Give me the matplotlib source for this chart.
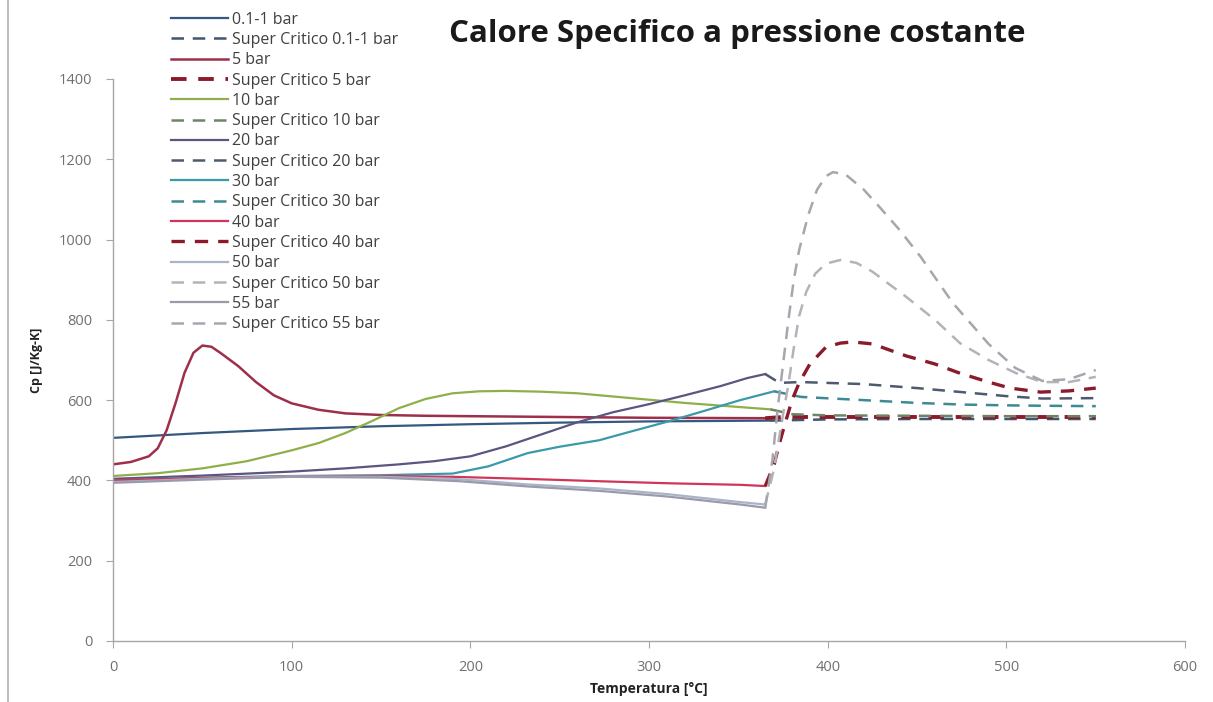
import matplotlib
matplotlib.use("Agg")
import matplotlib.pyplot as plt
from matplotlib.lines import Line2D

plt.rcParams["font.family"] = ["Open Sans", "DejaVu Sans"]

# liquid / sub-critical branch (temperature in C, cp in J/kg-K)
t_01 = [0, 50, 100, 150, 200, 250, 300, 368]
cp_01 = [506, 518, 528, 535, 540, 544, 547, 549]

t_5 = [0, 10, 20, 25, 30, 35, 40, 45, 50, 55, 60, 70, 80, 90, 100, 115, 130, 150, 175, 200, 250, 300, 365]
cp_5 = [440, 446, 460, 480, 525, 593, 668, 718, 736, 733, 718, 685, 645, 612, 592, 576, 567, 563, 561, 560, 558, 556, 555]

t_10 = [0, 25, 50, 75, 100, 115, 130, 145, 160, 175, 190, 205, 220, 240, 260, 290, 320, 350, 368]
cp_10 = [411, 418, 430, 448, 475, 493, 518, 548, 580, 603, 617, 622, 623, 621, 617, 605, 593, 583, 577]

t_20 = [0, 50, 100, 130, 160, 180, 200, 220, 240, 260, 280, 300, 320, 340, 355, 365]
cp_20 = [404, 412, 422, 430, 440, 448, 460, 485, 515, 545, 570, 590, 612, 635, 655, 665]

t_30 = [0, 50, 100, 150, 190, 210, 232, 250, 272, 290, 310, 330, 351, 370]
cp_30 = [400, 407, 411, 413, 417, 435, 468, 484, 500, 522, 546, 572, 600, 622]

t_40 = [0, 50, 100, 150, 190, 230, 272, 310, 351, 365]
cp_40 = [400, 406, 410, 411, 409, 404, 398, 393, 389, 386]

t_50 = [0, 50, 100, 150, 194, 232, 272, 310, 351, 365]
cp_50 = [396, 404, 410, 409, 403, 390, 380, 366, 346, 340]

t_55 = [0, 50, 100, 150, 194, 232, 272, 310, 351, 365]
cp_55 = [394, 402, 409, 407, 398, 385, 374, 360, 340, 332]

# super-critical branch
ts_01 = [368, 400, 450, 500, 550]
cps_01 = [549, 552, 553, 553, 553]

ts_5 = [365, 375, 400, 450, 500, 550]
cps_5 = [555, 558, 558, 558, 558, 558]

ts_10 = [368, 380, 400, 450, 500, 550]
cps_10 = [577, 565, 562, 561, 560, 560]

ts_20 = [365, 373, 385, 420, 450, 475, 500, 520, 550]
cps_20 = [665, 643, 645, 640, 630, 620, 610, 604, 605]

ts_30 = [370, 385, 420, 450, 475, 500, 520, 550]
cps_30 = [622, 608, 600, 593, 589, 587, 586, 585]

ts_40 = [365, 370, 373, 376, 380, 384, 390, 399, 407, 414, 425, 444, 460, 474, 490, 502, 519, 535, 550]
cps_40 = [386, 440, 493, 540, 600, 643, 690, 732, 742, 745, 740, 710, 690, 667, 645, 630, 620, 623, 630]

ts_50 = [365, 370, 374, 378, 381, 384, 388, 393, 399, 407, 416, 425, 444, 460, 474, 490, 505, 520, 535, 550]
cps_50 = [340, 430, 540, 640, 730, 810, 870, 915, 940, 949, 942, 920, 857, 800, 742, 700, 668, 645, 645, 658]

ts_55 = [365, 369, 372, 375, 378, 381, 384, 389, 394, 399, 403, 410, 420, 429, 440, 452, 470, 490, 505, 520, 535, 550]
cps_55 = [332, 450, 580, 690, 800, 900, 974, 1060, 1124, 1158, 1168, 1162, 1125, 1081, 1025, 957, 842, 740, 680, 648, 652, 675]

series = [
    ("0.1-1 bar", t_01, cp_01, "#34587F", "-", 1.6),
    ("Super Critico 0.1-1 bar", ts_01, cps_01, "#3F5670", "--", 1.8),
    ("5 bar", t_5, cp_5, "#9E2F4A", "-", 1.8),
    ("Super Critico 5 bar", ts_5, cps_5, "#8B1A2B", "--", 2.8),
    ("10 bar", t_10, cp_10, "#8DB04A", "-", 1.6),
    ("Super Critico 10 bar", ts_10, cps_10, "#6F8466", "--", 1.8),
    ("20 bar", t_20, cp_20, "#5B5580", "-", 1.6),
    ("Super Critico 20 bar", ts_20, cps_20, "#4E5A6E", "--", 1.8),
    ("30 bar", t_30, cp_30, "#3A9AAA", "-", 1.6),
    ("Super Critico 30 bar", ts_30, cps_30, "#3C8A94", "--", 1.8),
    ("40 bar", t_40, cp_40, "#D0355A", "-", 1.6),
    ("Super Critico 40 bar", ts_40, cps_40, "#8B1A2B", "--", 2.4),
    ("50 bar", t_50, cp_50, "#A8B4C8", "-", 1.6),
    ("Super Critico 50 bar", ts_50, cps_50, "#B4B4B8", "--", 1.8),
    ("55 bar", t_55, cp_55, "#9A9AAA", "-", 1.6),
    ("Super Critico 55 bar", ts_55, cps_55, "#A6A6AE", "--", 1.8),
]

fig = plt.figure(figsize=(12.13, 7.02), dpi=100)
ax = fig.add_axes([0.0932, 0.0869, 0.8838, 0.8006])

for label, t, cp, color, ls, lw in series:
    kw = {}
    if ls == "--":
        kw["dashes"] = (5, 3.5) if lw < 2.2 else (4, 3)
    ax.plot(t, cp, color=color, lw=lw, ls=ls, label=label, **kw)

ax.set_xlim(0, 600)
ax.set_ylim(0, 1400)
ax.set_xticks(range(0, 601, 100))
ax.set_yticks(range(0, 1401, 200))
for side in ("top", "right"):
    ax.spines[side].set_visible(False)
for side in ("left", "bottom"):
    ax.spines[side].set_color("#A6A6A6")
    ax.spines[side].set_linewidth(1.0)
ax.tick_params(colors="#A6A6A6", labelcolor="#707070", labelsize=10.5, length=5)
ax.tick_params(axis="x", pad=9)
ax.tick_params(axis="y", pad=10)

ax.set_xlabel("Temperatura [°C]", fontsize=10, fontweight="bold", color="#222222", labelpad=5)
ax.set_ylabel("Cp [J/Kg-K]", fontsize=9, fontweight="bold", color="#222222", labelpad=11)

fig.text(0.608, 0.951, "Calore Specifico a pressione costante", fontsize=22.5,
         fontweight="bold", color="#1A1A1A", ha="center", va="center")

fig.legend(loc="upper left", bbox_to_anchor=(0.129, 1.004), frameon=False,
           fontsize=11.5, labelspacing=0.27, handlelength=3.6, handletextpad=0.25,
           labelcolor="#404040")

# scanned page border on the left
fig.add_artist(Line2D([0.007, 0.007], [0.0, 1.0], transform=fig.transFigure,
                      color="#B0B0B0", lw=1.2))

fig.savefig("out.png", dpi=100)
